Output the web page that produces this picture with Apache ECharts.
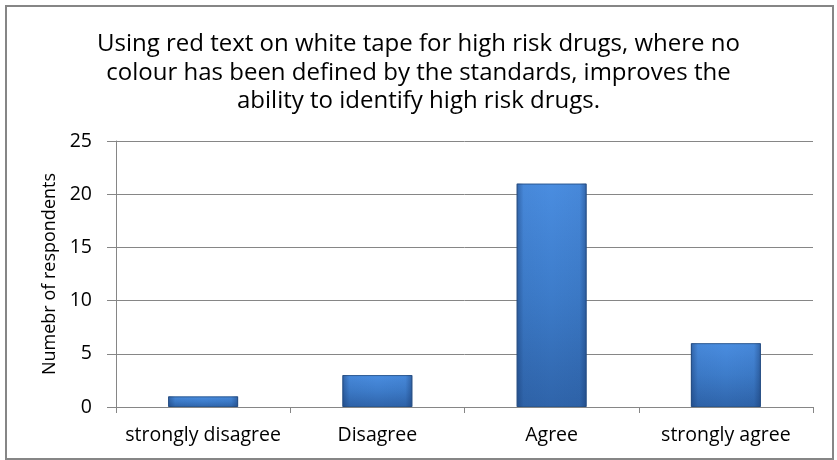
<!DOCTYPE html>
<html><head><meta charset="utf-8">
<script src="https://cdn.jsdelivr.net/npm/echarts@6/dist/echarts.min.js"></script>
<style>html,body{margin:0;padding:0;background:#fff}#c{width:837px;height:460px}</style>
</head><body><div id="c"></div>
<script>
const categories = ['strongly disagree', 'Disagree', 'Agree', 'strongly agree'];
const respondents = [1, 3, 21, 6];
const yTicks = [0, 5, 10, 15, 20, 25];
const titleText = 'Using red text on white tape for high risk drugs, where no\ncolour has been defined by the standards, improves the\nability to identify high risk drugs.';
const yName = 'Numebr of respondents';

const chart = echarts.init(document.getElementById('c'));
const font = '"Open Sans", sans-serif';
chart.setOption({
  animation: false,
  graphic: [{
    type: 'rect', left: 5, top: 5, z: -1,
    shape: { width: 827, height: 453 },
    style: { fill: '#fff', stroke: '#868686', lineWidth: 2 }
  }],
  title: {
    text: titleText, left: 'center', top: 25,
    textStyle: { fontFamily: font, fontSize: 24, fontWeight: 'normal', color: '#000', lineHeight: 28.5 }
  },
  grid: { left: 116, right: 24, top: 141, bottom: 53, containLabel: false },
  xAxis: {
    type: 'category', data: categories,
    axisLine: { lineStyle: { color: '#868686', width: 1 } },
    axisTick: { show: true, alignWithLabel: false, length: 6, lineStyle: { color: '#868686' } },
    axisLabel: { interval: 0, fontFamily: font, fontSize: 19.5, color: '#000', margin: 18 }
  },
  yAxis: {
    type: 'value', min: yTicks[0], max: yTicks[yTicks.length - 1], interval: 5,
    name: yName, nameLocation: 'middle', nameGap: 57, nameRotate: 90,
    nameTextStyle: { fontFamily: font, fontSize: 18, color: '#000' },
    axisLine: { show: true, lineStyle: { color: '#868686' } },
    axisTick: { show: true, length: 9, lineStyle: { color: '#868686' } },
    axisLabel: { fontFamily: font, fontSize: 19.5, color: '#000', margin: 24 },
    splitLine: { lineStyle: { color: '#868686', width: 1 } }
  },
  series: [{
    type: 'bar', data: respondents, barWidth: 70, z: 2,
    itemStyle: {
      color: new echarts.graphic.LinearGradient(0, 0, 0, 1, [
        { offset: 0, color: '#4a8de0' },
        { offset: 0.5, color: '#3d7cca' },
        { offset: 1, color: '#2f64aa' }
      ]),
      borderColor: '#2b5a94', borderWidth: 1
    }
  }, {
    type: 'bar', data: respondents, barWidth: 70, barGap: '-100%', z: 3, silent: true,
    itemStyle: {
      color: new echarts.graphic.LinearGradient(0, 0, 1, 0, [
        { offset: 0, color: 'rgba(20,50,100,0.45)' },
        { offset: 0.1, color: 'rgba(20,50,100,0.05)' },
        { offset: 0.5, color: 'rgba(20,50,100,0)' },
        { offset: 0.9, color: 'rgba(20,50,100,0.05)' },
        { offset: 1, color: 'rgba(20,50,100,0.45)' }
      ])
    }
  }]
});
</script></body></html>
